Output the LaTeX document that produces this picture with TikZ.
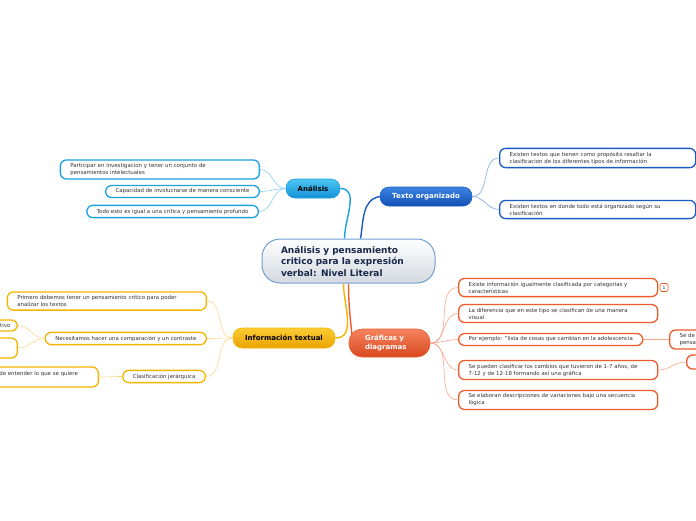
\documentclass[tikz,border=0pt]{standalone}
\usepackage{fontspec}
\setmainfont{DejaVu Sans}
\usetikzlibrary{backgrounds}
\definecolor{leaftext}{HTML}{333333}
\definecolor{topicedge}{HTML}{6E9FD2}
\definecolor{topicgrey}{HTML}{D3D9DF}
\definecolor{topictext}{HTML}{18284A}
\definecolor{anaedge}{HTML}{1BA1E2}
\definecolor{anatop}{HTML}{4CC6F3}
\definecolor{anabot}{HTML}{1391D6}
\definecolor{analine}{HTML}{8CCFF2}
\definecolor{textoedge}{HTML}{1A5BC8}
\definecolor{textotop}{HTML}{3A84E2}
\definecolor{textobot}{HTML}{1450B4}
\definecolor{textoline}{HTML}{7EA3E2}
\definecolor{infoedge}{HTML}{F6B300}
\definecolor{infotop}{HTML}{FBCD34}
\definecolor{infobot}{HTML}{E9A300}
\definecolor{infoline}{HTML}{FCD98C}
\definecolor{grafedge}{HTML}{EF5A2A}
\definecolor{graftop}{HTML}{F5845F}
\definecolor{grafbot}{HTML}{D8481E}
\definecolor{grafline}{HTML}{F8A68A}
\tikzset{
  % The 'leaf' style is a white rounded box with a coloured border
  leaf/.style={draw=#1, fill=white, line width=1.3pt, rounded corners=6pt, inner xsep=10pt, inner ysep=3.4pt, align=left, text=leaftext, font=\fontsize{5.4}{7}\selectfont},
  % The 'branch' style is a shaded pill holding a bold title
  branch/.style={draw=#1, line width=0.6pt, rounded corners=9pt, inner sep=0pt, align=left, font=\bfseries\fontsize{7}{9}\selectfont},
  % The 'topic' style is the big central box
  topic/.style={draw=topicedge, line width=1pt, rounded corners=18pt, top color=white, bottom color=topicgrey, minimum width=173pt, minimum height=44pt, text width=135pt, inner sep=0pt, align=left, text=topictext, font=\bfseries\fontsize{9}{11.5}\selectfont},
  % The 'badge' style is the small numbered tag
  badge/.style={draw=grafedge, fill=white, line width=0.6pt, rounded corners=1.5pt, minimum width=8pt, minimum height=8pt, inner sep=0pt, text=leaftext, font=\fontsize{4.5}{4.5}\selectfont},
  % The 'trunk' style joins the topic to a branch
  trunk/.style={draw=#1, line width=1.4pt},
  % The 'twig' style joins a branch to its leaves
  twig/.style={draw=#1, line width=0.6pt}
}
\begin{document}
\begin{tikzpicture}[x=1pt, y=-1pt]
  \clip (0,0) rectangle (696,520);

  % Central topic
  \node[topic] at (348.5,261) (main) {Análisis y pensamiento\\critico para la expresión\\verbal: Nivel Literal};

  % Branches round the topic
  \node[branch=anaedge, top color=anatop, bottom color=anabot, minimum width=54pt, minimum height=19pt, text=black] at (313,188.5) (ana) {Análisis};
  \node[branch=textoedge, top color=textotop, bottom color=textobot, minimum width=92pt, minimum height=19pt, text=white] at (426,196.5) (texto) {Texto organizado};
  \node[branch=infoedge, top color=infotop, bottom color=infobot, minimum width=102pt, minimum height=20pt, text=black] at (284,338) (info) {Información textual};
  \node[branch=grafedge, top color=graftop, bottom color=grafbot, minimum width=81pt, minimum height=28pt, text width=49pt, rounded corners=13pt, text=white] at (389.5,343) (graf) {Gráficas y\\diagramas};

  % Trunks go behind the boxes
  \begin{scope}[on background layer]
    \draw[trunk=anaedge] (ana.east) to[out=0, in=90] ([xshift=-4pt]main.north);
    \draw[trunk=textoedge] ([xshift=12pt]main.north) to[out=80, in=190] (texto.west);
    \draw[trunk=infoedge] ([xshift=-5pt]main.south) to[out=-90, in=0] (info.east);
    \draw[trunk=grafedge] (main.south) to[out=-90, in=95] ([xshift=4pt]graf.west);
  \end{scope}

  % Análisis leaves
  \node[leaf=anaedge, text width=179pt, anchor=east] at (260,169.5) (a1) {Participar en investigacion y tener un conjunto de\\pensamientos intelectuales};
  \node[leaf=anaedge, anchor=east] at (260,191.5) (a2) {Capacidad de involucrarse de manera consciente};
  \node[leaf=anaedge, anchor=east] at (259,211.5) (a3) {Todo esto es igual a una crítica y pensamiento profundo};
  \foreach \leafname in {a1,a2,a3}
    \draw[twig=analine] (ana.west) to[out=180, in=0] (\leafname.east);

  % Texto organizado leaves
  \node[leaf=textoedge, text width=176pt, anchor=west] at (499,158) (t1) {Existen textos que tienen como propósito resaltar la\\clasificacion de los diferentes tipos de información};
  \node[leaf=textoedge, text width=176pt, anchor=west] at (499,209.5) (t2) {Existen textos en donde todo está organizado según su\\clasificación};
  \foreach \leafname in {t1,t2}
    \draw[twig=textoline] (texto.east) to[out=0, in=180] (\leafname.west);

  % Información textual leaves
  \node[leaf=infoedge, text width=179pt, anchor=east] at (207,301) (i1) {Primero debemos tener un pensamiento crítico para poder\\analizar los textos};
  \node[leaf=infoedge, anchor=east] at (207,338.5) (i2) {Necesitamos hacer una comparación y un contraste};
  \node[leaf=infoedge, anchor=east] at (206,376.5) (i3) {Clasificación jerárquica};
  \foreach \leafname in {i1,i2,i3}
    \draw[twig=infoline] (info.west) to[out=180, in=0] (\leafname.east);

  \node[leaf=infoedge, anchor=east, inner xsep=7pt] at (18,325.5) (n1) {tivo};
  \node[leaf=infoedge, anchor=east, minimum width=60pt, minimum height=20pt] at (18,348) (n2) {};
  \node[leaf=infoedge, anchor=east, text width=89pt, minimum height=20pt] at (99,377) (c1) {de entender lo que se quiere\\\mbox{}};
  \draw[twig=infoline] (i2.west) to[out=180, in=0] (n1.east);
  \draw[twig=infoline] (i2.west) to[out=180, in=0] (n2.east);
  \draw[twig=infoline] (i3.west) to[out=180, in=0] (c1.east);

  % Gráficas y diagramas leaves
  \node[leaf=grafedge, text width=179pt, anchor=west] at (458,287.5) (g1) {Existe información igualmente clasificada por categorías y\\características};
  \node[leaf=grafedge, text width=179pt, anchor=west] at (458,313.5) (g2) {La diferencia que en este tipo se clasifican de una manera\\visual};
  \node[leaf=grafedge, anchor=west] at (458,339.5) (g3) {Por ejemplo: "lista de cosas que cambian en la adolescencia};
  \node[leaf=grafedge, text width=179pt, anchor=west] at (458,370) (g4) {Se pueden clasificar los cambios que tuvieron de 1-7 años, de\\7-12 y de 12-18 formando así una gráfica};
  \node[leaf=grafedge, text width=179pt, anchor=west] at (458,400) (g5) {Se elaboran descripciones de variaciones bajo una secuencia\\lógica};
  \foreach \leafname in {g1,g2,g3,g4,g5}
    \draw[twig=grafline] (graf.east) to[out=0, in=180] (\leafname.west);

  \node[badge] at (664,287.5) (tag) {1};

  \node[leaf=grafedge, anchor=west] at (669,339.5) (p1) {Se de\\pensa};
  \node[leaf=grafedge, anchor=west, minimum width=30pt, minimum height=14pt] at (686,362) (s1) {};
  \draw[twig=grafline] (g3.east) to[out=0, in=180] (p1.west);
  \draw[twig=grafline] (g4.east) to[out=0, in=180] (s1.west);

\end{tikzpicture}
\end{document}
